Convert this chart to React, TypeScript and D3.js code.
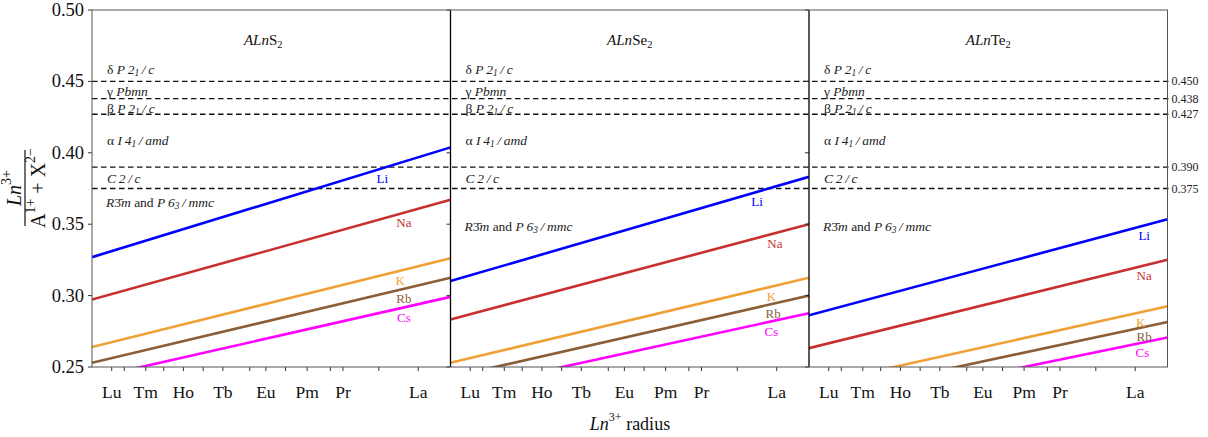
import React from "react";
import * as d3 from "d3";

const panels = ["S", "Se", "Te"];
const cations = ["Li", "Na", "K", "Rb", "Cs"];
const colors = ["#0000ff", "#c8302f", "#f0a035", "#8c5e37", "#ff00ff"];
const xEnds = [0.85, 1.05];
// y value of each line at left (0.85) and right (1.05) edge of panel
const lineS = [[0.3269, 0.4038], [0.2972, 0.3671], [0.2640, 0.3261], [0.2530, 0.3125], [0.2422, 0.2991]];
const lineSe = [[0.3102, 0.3832], [0.2833, 0.3500], [0.2530, 0.3125], [0.2429, 0.3000], [0.2329, 0.2877]];
const lineTe = [[0.2862, 0.3535], [0.2632, 0.3251], [0.2368, 0.2925], [0.2279, 0.2815], [0.2191, 0.2706]];
const lineData = [lineS, lineSe, lineTe];
const labelXs = [
  [1.012, 1.024, 1.022, 1.024, 1.024],
  [1.021, 1.031, 1.029, 1.030, 1.029],
  [1.037, 1.037, 1.035, 1.037, 1.036],
];
const lnNames = ["Lu", "Yb", "Tm", "Er", "Ho", "Dy", "Tb", "Gd", "Eu", "Sm", "Pm", "Nd", "Pr", "Ce", "La"];
const lnRadii = [0.861, 0.868, 0.88, 0.89, 0.901, 0.912, 0.923, 0.938, 0.947, 0.958, 0.97, 0.983, 0.99, 1.01, 1.032];
const lnLabeled = ["Lu", "Tm", "Ho", "Tb", "Eu", "Pm", "Pr", "La"];
const yTicks = [0.25, 0.3, 0.35, 0.4, 0.45, 0.5];
const boundaries = [0.45, 0.438, 0.427, 0.39, 0.375];
const boundaryLabels = ["0.450", "0.438", "0.427", "0.390", "0.375"];
const phaseVals = [0.4586, 0.4432, 0.4313, 0.4089, 0.3823];
const rPhaseVals = [0.3655, 0.3487, 0.3487];

type Seg = { t: string; i?: boolean; sub?: boolean; sup?: boolean };
const TS = "\u2009";
const phaseTexts: Seg[][] = [
  [{ t: "δ " }, { t: "P" + TS + "2", i: true }, { t: "1", i: true, sub: true }, { t: TS + "/" + TS + "c", i: true }],
  [{ t: "γ " }, { t: "Pbmn", i: true }],
  [{ t: "β " }, { t: "P" + TS + "2", i: true }, { t: "1", i: true, sub: true }, { t: TS + "/" + TS + "c", i: true }],
  [{ t: "α " }, { t: "I" + TS + "4", i: true }, { t: "1", i: true, sub: true }, { t: TS + "/" + TS + "amd", i: true }],
  [{ t: "C" + TS + "2" + TS + "/" + TS + "c", i: true }],
];
const rPhase: Seg[] = [
  { t: "R", i: true }, { t: "3\u0304" }, { t: "m", i: true }, { t: " and " },
  { t: "P" + TS + "6", i: true }, { t: "3", i: true, sub: true }, { t: TS + "/" + TS + "mmc", i: true },
];

const W = 1208, H = 437;
const left = 92, top = 10, bottom = 367;
const panelW = 358.5;
const FONT = "'Liberation Serif', 'DejaVu Serif', serif";

function SegText({ segs, x, y, size, fill = "#222", anchor = "start" }: { segs: Seg[]; x: number; y: number; size: number; fill?: string; anchor?: string }) {
  const out: React.ReactNode[] = [];
  let shift = 0;
  segs.forEach((s, k) => {
    const target = s.sub ? size * 0.3 : s.sup ? -size * 0.4 : 0;
    const dy = target - shift;
    shift = target;
    out.push(
      <tspan key={k} dy={dy} fontStyle={s.i ? "italic" : "normal"} fontSize={s.sub || s.sup ? size * 0.7 : size}>
        {s.t}
      </tspan>
    );
  });
  return (
    <text x={x} y={y} fontFamily={FONT} fontSize={size} fill={fill} textAnchor={anchor} dominantBaseline="central">
      {out}
    </text>
  );
}

export default function App() {
  const y = d3.scaleLinear().domain([0.25, 0.5]).range([bottom, top]);
  const xScales = panels.map((_, p) =>
    d3.scaleLinear().domain([0.85, 1.05]).range([left + p * panelW, left + (p + 1) * panelW])
  );
  const rightEdge = left + 3 * panelW;
  const line = d3.line<[number, number]>();

  return (
    <svg width={W} height={H} style={{ position: "absolute", left: 0, top: 0, background: "#fff" }}>
      <defs>
        {panels.map((_, p) => (
          <clipPath id={`clip${p}`} key={p}>
            <rect x={left + p * panelW} y={top} width={panelW} height={bottom - top} />
          </clipPath>
        ))}
      </defs>

      {/* boundary dashed lines */}
      {boundaries.map((b, k) => (
        <line key={k} x1={left} x2={rightEdge + 1} y1={y(b)} y2={y(b)} stroke="#111" strokeWidth={1.3} strokeDasharray="5.5,3.5" />
      ))}
      {boundaries.map((b, k) => (
        <text key={k} x={rightEdge + 4} y={y(b)} fontFamily={FONT} fontSize={12} fill="#222" dominantBaseline="central">
          {boundaryLabels[k]}
        </text>
      ))}

      {panels.map((el, p) => {
        const x = xScales[p];
        const x0 = left + p * panelW;
        return (
          <g key={el}>
            {/* lines */}
            <g clipPath={`url(#clip${p})`}>
              {lineData[p].map((vals, c) => (
                <path
                  key={c}
                  d={line(xEnds.map((xv, j) => [x(xv), y(vals[j])]) as [number, number][]) || ""}
                  fill="none"
                  stroke={colors[c]}
                  strokeWidth={2.6}
                />
              ))}
            </g>
            {/* line labels */}
            {lineData[p].map((vals, c) => {
              const lx = labelXs[p][c];
              const v = vals[0] + ((vals[1] - vals[0]) * (lx - xEnds[0])) / (xEnds[1] - xEnds[0]);
              return (
                <text key={c} x={x(lx)} y={y(v) + 10} fontFamily={FONT} fontSize={13} fill={colors[c]} textAnchor="middle" dominantBaseline="central">
                  {cations[c]}
                </text>
              );
            })}
            {/* phase labels */}
            {phaseTexts.map((segs, k) => (
              <SegText key={k} segs={segs} x={x0 + 15} y={y(phaseVals[k])} size={13.5} />
            ))}
            <SegText segs={rPhase} x={x0 + 14} y={y(rPhaseVals[p])} size={13.5} />
            {/* title */}
            <text x={x0 + panelW / 2 - (p === 0 ? 8 : 0)} y={40} fontFamily={FONT} fontSize={15} fill="#111" textAnchor="middle" dominantBaseline="central">
              <tspan fontStyle="italic">A</tspan>
              <tspan fontStyle="italic">Ln</tspan>
              <tspan>{el}</tspan>
              <tspan dy={4} fontSize={10.5}>2</tspan>
            </text>
            {/* y ticks (left, outward) */}
            {yTicks.map((t) => (
              <line key={t} x1={x0 - 4} x2={x0} y1={y(t)} y2={y(t)} stroke="#333" strokeWidth={1} />
            ))}
            {/* x ticks */}
            {lnRadii.map((r, k) => (
              <line key={k} x1={x(r)} x2={x(r)} y1={bottom} y2={bottom + 4} stroke="#333" strokeWidth={1} />
            ))}
            {lnRadii.map((r, k) =>
              lnLabeled.includes(lnNames[k]) ? (
                <text key={k} x={x(r)} y={392} fontFamily={FONT} fontSize={17.5} fill="#111" textAnchor="middle" dominantBaseline="central">
                  {lnNames[k]}
                </text>
              ) : null
            )}
            {/* divider */}
            {p > 0 && <line x1={x0} x2={x0} y1={top} y2={bottom} stroke="#000" strokeWidth={1.3} />}
          </g>
        );
      })}

      {/* outer frame */}
      <rect x={left} y={top} width={rightEdge - left} height={bottom - top} fill="none" stroke="#555" strokeWidth={1} />

      {/* y tick labels */}
      {yTicks.map((t) => (
        <text key={t} x={84} y={y(t)} fontFamily={FONT} fontSize={18.5} fill="#111" textAnchor="end" dominantBaseline="central">
          {t.toFixed(2)}
        </text>
      ))}

      {/* x axis label */}
      <text x={630} y={424} fontFamily={FONT} fontSize={18} fill="#111" textAnchor="middle" dominantBaseline="central">
        <tspan fontStyle="italic">Ln</tspan>
        <tspan dy={-7} fontSize={12}>3+</tspan>
        <tspan dy={7}> radius</tspan>
      </text>

      {/* y axis label: fraction */}
      <g transform="translate(25,188) rotate(-90)">
        <line x1={-38} x2={38} y1={0} y2={0} stroke="#111" strokeWidth={1.2} />
        <text x={0} y={-11} fontFamily={FONT} fontSize={20} fill="#111" textAnchor="middle" dominantBaseline="central">
          <tspan fontStyle="italic">Ln</tspan>
          <tspan dy={-8} fontSize={14}>3+</tspan>
        </text>
        <text x={0} y={13} fontFamily={FONT} fontSize={20} fill="#111" textAnchor="middle" dominantBaseline="central">
          <tspan>A</tspan>
          <tspan dy={-8} fontSize={14}>1+</tspan>
          <tspan dy={8}> + X</tspan>
          <tspan dy={-8} fontSize={14}>2−</tspan>
        </text>
      </g>
    </svg>
  );
}
